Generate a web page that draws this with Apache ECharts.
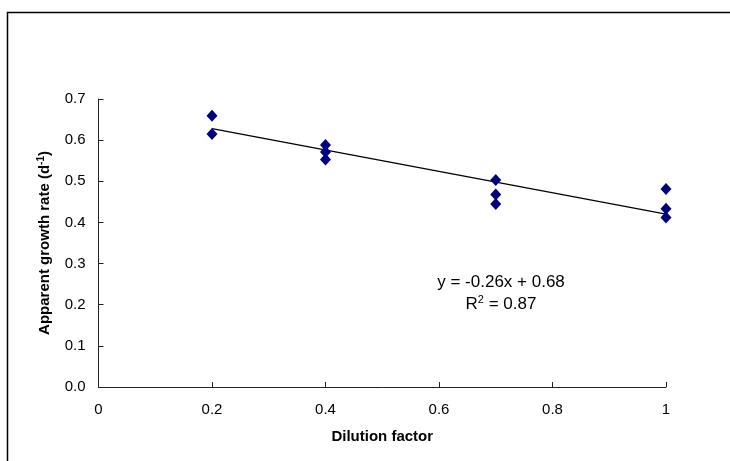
<!DOCTYPE html>
<html>
<head>
<meta charset="utf-8">
<script src="https://cdn.jsdelivr.net/npm/echarts@6/dist/echarts.min.js"></script>
<style>
html,body{margin:0;padding:0;background:#fff;}
#chart{width:730px;height:461px;}
</style>
</head>
<body>
<div id="chart"></div>
<script>
const xValues = [0.2, 0.2, 0.4, 0.4, 0.4, 0.7, 0.7, 0.7, 1, 1, 1];
const yValues = [0.659, 0.615, 0.588, 0.571, 0.553, 0.503, 0.468, 0.445, 0.481, 0.433, 0.412];
const trendX = [0.2, 1];
const trendY = [0.628, 0.42];
const xTickLabels = ['0', '0.2', '0.4', '0.6', '0.8', '1'];
const yTickLabels = ['0.0', '0.1', '0.2', '0.3', '0.4', '0.5', '0.6', '0.7'];
const equationText = 'y = -0.26x + 0.68';
const r2Text = '0.87';

const chart = echarts.init(document.getElementById('chart'), null, {renderer: 'canvas'});
const font = '"Liberation Sans", Arial, sans-serif';

const option = {
  animation: false,
  backgroundColor: '#fff',
  grid: {left: 98.5, right: 64, top: 99, bottom: 74, containLabel: false},
  xAxis: {
    type: 'value', min: 0, max: 1, interval: 0.2,
    name: 'Dilution factor', nameLocation: 'middle', nameGap: 42,
    nameTextStyle: {fontFamily: font, fontWeight: 'bold', fontSize: 15, color: '#000'},
    axisLine: {show: true, lineStyle: {color: '#222', width: 1}},
    axisTick: {show: true, inside: true, length: 5, lineStyle: {color: '#222'}},
    axisLabel: {fontFamily: font, fontSize: 15, color: '#000', margin: 15,
      formatter: (v) => xTickLabels[Math.round(v / 0.2)]},
    splitLine: {show: false}
  },
  yAxis: {
    type: 'value', min: 0, max: 0.7, interval: 0.1,
    name: '{b|Apparent growth rate (d}{s|-1}{b|)}', nameLocation: 'middle', nameGap: 45, nameRotate: 90,
    nameTextStyle: {fontFamily: font, fontWeight: 'bold', fontSize: 15, color: '#000',
      rich: {
        b: {fontFamily: font, fontWeight: 'bold', fontSize: 15, color: '#000'},
        s: {fontFamily: font, fontWeight: 'bold', fontSize: 10, color: '#000', verticalAlign: 'top', padding: [0, 0, 7, 0]}
      }},
    axisLine: {show: true, lineStyle: {color: '#222', width: 1}},
    axisTick: {show: true, inside: true, length: 5, lineStyle: {color: '#222'}},
    axisLabel: {fontFamily: font, fontSize: 15, color: '#000', margin: 13,
      formatter: (v) => yTickLabels[Math.round(v / 0.1)]},
    splitLine: {show: false}
  },
  series: [
    {
      type: 'line',
      data: trendX.map((x, i) => [x, trendY[i]]),
      showSymbol: false, symbol: 'none',
      lineStyle: {color: '#000', width: 1.3},
      z: 2
    },
    {
      type: 'scatter',
      data: xValues.map((x, i) => [x, yValues[i]]),
      symbol: 'diamond', symbolSize: [11, 12],
      itemStyle: {color: '#000080', opacity: 1},
      z: 3
    }
  ],
  graphic: [
    {type: 'rect', shape: {x: 7.5, y: 12.5, width: 740, height: 470},
      style: {fill: 'none', stroke: '#000', lineWidth: 1.5}, silent: true},
    {type: 'text', x: 501, y: 282,
      style: {text: equationText, font: '17px ' + font, fill: '#000', align: 'center', verticalAlign: 'middle'}},
    {type: 'text', x: 501, y: 304,
      style: {text: '{n|R}{s|2}{n| = ' + r2Text + '}', align: 'center', verticalAlign: 'middle',
        rich: {
          n: {fontFamily: font, fontSize: 17, color: '#000'},
          s: {fontFamily: font, fontSize: 11, color: '#000', verticalAlign: 'top', padding: [0, 0, 8, 0]}
        }}}
  ]
};
chart.setOption(option);
</script>
</body>
</html>
